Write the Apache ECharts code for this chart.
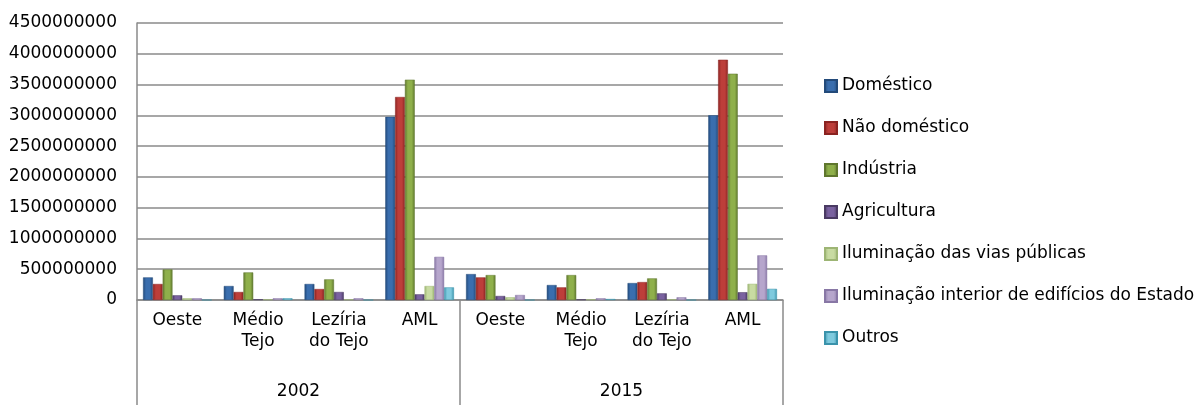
<!DOCTYPE html>
<html>
<head>
<meta charset="utf-8">
<script src="https://cdn.jsdelivr.net/npm/echarts@6/dist/echarts.min.js"></script>
<style>html,body{margin:0;padding:0;background:#fff}#c{width:1203px;height:405px}</style>
</head>
<body>
<div id="c"></div>
<script>
// ---- data ----
var regions = ['Oeste', 'Médio\nTejo', 'Lezíria\ndo Tejo', 'AML', 'Oeste', 'Médio\nTejo', 'Lezíria\ndo Tejo', 'AML'];
var years = ['2002', '2015'];
var seriesNames = ['Doméstico', 'Não doméstico', 'Indústria', 'Agricultura',
  'Iluminação das vias públicas', 'Iluminação interior de edifícios do Estado', 'Outros'];
var domestico     = [367000000, 227000000, 260000000, 2975000000, 421000000, 243000000, 275000000, 3001000000];
var naoDomestico  = [260000000, 130000000, 178000000, 3298000000, 367000000, 205000000, 291000000, 3903000000];
var industria     = [497000000, 448000000, 335000000, 3579000000, 405000000, 405000000, 351000000, 3676000000];
var agricultura   = [76000000, 12000000, 130000000, 92000000, 65000000, 10000000, 108000000, 126000000];
var ilumVias      = [28000000, 10000000, 10000000, 227000000, 44000000, 10000000, 10000000, 262000000];
var ilumInterior  = [28000000, 28000000, 28000000, 701000000, 81000000, 28000000, 44000000, 725000000];
var outros        = [0, 28000000, 0, 205000000, 0, 16000000, 0, 181000000];
var yTicks = [0, 500000000, 1000000000, 1500000000, 2000000000, 2500000000, 3000000000, 3500000000, 4000000000, 4500000000];

var values = [domestico, naoDomestico, industria, agricultura, ilumVias, ilumInterior, outros];

// ---- style ----
var palette = [
  ['#234a7a', '#3a6eae'],
  ['#8a2321', '#bd3e3a'],
  ['#5f772e', '#8fb04b'],
  ['#4a3a63', '#7a62a0'],
  ['#9db574', '#c8dba2'],
  ['#8877a5', '#b6a6cc'],
  ['#3a93ab', '#7fcade']
];
function grad(c) {
  return new echarts.graphic.LinearGradient(0, 0, 1, 0, [
    {offset: 0, color: c[0]}, {offset: 0.3, color: c[1]},
    {offset: 0.7, color: c[1]}, {offset: 1, color: c[0]}
  ]);
}
var FONT = 'DejaVu Sans';
var chart = echarts.init(document.getElementById('c'), null, {renderer: 'canvas'});
var series = seriesNames.map(function (n, i) {
  return {
    name: n, type: 'bar', xAxisIndex: 0, yAxisIndex: 0,
    data: values[i],
    barGap: '0%', barCategoryGap: '15%',
    itemStyle: {color: grad(palette[i]), borderColor: palette[i][0], borderWidth: 0.5}
  };
});
chart.setOption({
  animation: false,
  backgroundColor: '#fff',
  textStyle: {fontFamily: FONT},
  grid: {left: 137, right: 420, top: 23, bottom: 105, containLabel: false},
  legend: {
    orient: 'vertical', left: 824, top: 76, padding: 0,
    itemWidth: 12, itemHeight: 12, itemGap: 22,
    icon: 'rect',
    textStyle: {fontFamily: FONT, fontSize: 17, color: '#000', lineHeight: 20, padding: [0, 0, 0, 0]},
    data: seriesNames.map(function (n, i) { return {name: n, itemStyle: {color: grad(palette[i])}}; })
  },
  xAxis: [
    {
      type: 'category', data: regions, position: 'bottom',
      axisLine: {show: true, lineStyle: {color: '#8a8a8a', width: 1.5}},
      axisTick: {show: false},
      axisLabel: {interval: 0, margin: 10, fontFamily: FONT, fontSize: 17, color: '#000', lineHeight: 21}
    },
    {
      type: 'category', data: years, position: 'bottom', offset: 105,
      axisLine: {show: false},
      axisTick: {show: true, inside: true, length: 105, lineStyle: {color: '#8a8a8a', width: 1.5}},
      axisLabel: {interval: 0, margin: -22, fontFamily: FONT, fontSize: 17, color: '#000'}
    }
  ],
  yAxis: {
    type: 'value', min: 0, max: 4500000000, interval: 500000000,
    axisLine: {show: true, lineStyle: {color: '#8a8a8a', width: 1.5}},
    axisTick: {show: false},
    splitLine: {show: true, lineStyle: {color: '#8a8a8a', width: 1.5}},
    axisLabel: {margin: 20, fontFamily: FONT, fontSize: 17, color: '#000',
      formatter: function (v) { return yTicks.indexOf(v) >= 0 ? String(v) : ''; }}
  },
  series: series
});
</script>
</body>
</html>
